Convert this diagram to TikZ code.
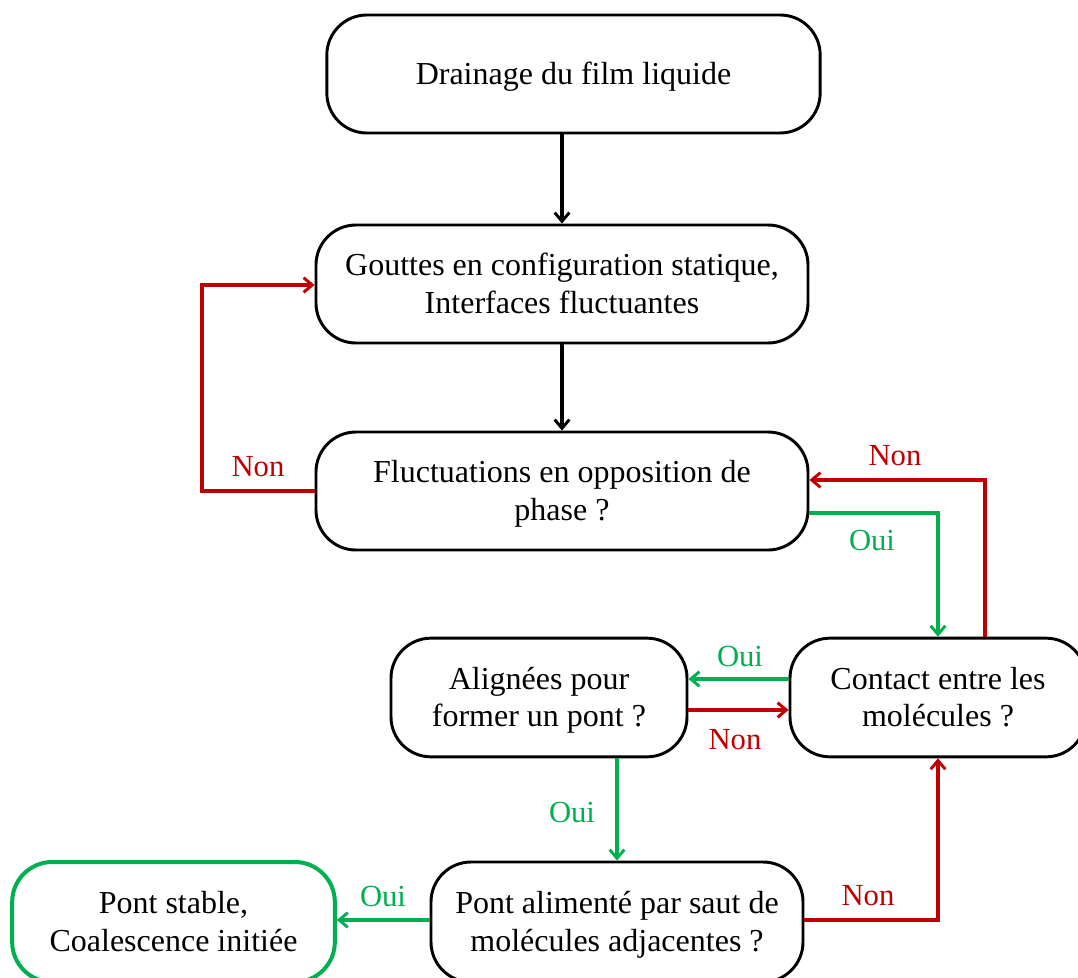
\documentclass[tikz,border=0pt]{standalone}
\usepackage{fontspec}
\setmainfont{Liberation Serif}
\usetikzlibrary{arrows.meta}
\definecolor{myred}{RGB}{192,0,0}
\definecolor{mygreen}{RGB}{0,176,80}
\newcommand{\btxt}[1]{\raisebox{-2.2pt}[\height][\depth]{\begin{tabular}{@{}c@{}}#1\end{tabular}}}
\begin{document}
\begin{tikzpicture}[x=0.75pt,y=-0.75pt,
  box/.style={draw=black,line width=2.2pt,rounded corners=30pt,align=center,
    font=\fontsize{24}{28}\selectfont,inner sep=0pt},
  lab/.style={font=\fontsize{23}{27}\selectfont,inner sep=0pt},
  conn/.style={line width=2.3pt,-{Straight Barb[length=6.5pt,width=11pt,line width=2.2pt]}},
  rd/.style={conn,draw=myred},
  gr/.style={conn,draw=mygreen},
  bk/.style={conn,draw=black}]
\useasboundingbox (0,0) rectangle (1078,978);
\node[box,minimum width=370pt,minimum height=88.5pt] (b1) at (573.5,74) {\btxt{Drainage du film liquide}};
\node[box,minimum width=369pt,minimum height=88.5pt] (b2) at (562,284) {\btxt{Gouttes en configuration statique,\\Interfaces fluctuantes}};
\node[box,minimum width=369pt,minimum height=88.5pt] (b3) at (562,491) {\btxt{Fluctuations en opposition de\\phase ?}};
\node[box,minimum width=222pt,minimum height=89pt] (b4) at (938,697.5) {\btxt{Contact entre les\\molécules ?}};
\node[box,minimum width=222pt,minimum height=89pt] (b5) at (539,697.5) {\btxt{Alignées pour\\former un pont ?}};
\node[box,minimum width=279pt,minimum height=90pt] (b6) at (617,922) {\btxt{Pont alimenté par saut de\\molécules adjacentes ?}};
\node[box,draw=mygreen,line width=3pt,minimum width=242pt,minimum height=90pt] (b7) at (173.5,922) {\btxt{Pont stable,\\Coalescence initiée}};

\coordinate (c1) at (202,491);
\coordinate (c2) at (202,285);
\coordinate (c3) at (938,513);
\coordinate (c4) at (985,480);
\coordinate (c5) at (938,920);

\draw[bk] (b2.north |- b1.south) -- (b2.north);
\draw[bk] (b2.south) -- (b3.north);
\draw[rd] (b3.west) -- (c1) -- (c2) -- (b2.west |- c2);
\draw[gr] (b3.east |- c3) -- (c3) -- (b4.north);
\draw[rd] (c4 |- b4.north) -- (c4) -- (b3.east |- c4);
\draw[gr] (b4.west |- 0,679) -- (b5.east |- 0,679);
\draw[rd] (b5.east |- 0,710) -- (b4.west |- 0,710);
\draw[gr] (b6.north |- b5.south) -- (b6.north);
\draw[gr] (b6.west |- 0,920) -- (b7.east |- 0,920);
\draw[rd] (b6.east |- c5) -- (c5) -- (b4.south);

\node[lab,text=myred] (n1) at (258,467) {Non};
\node[lab,text=mygreen] (o1) at (872,540) {Oui};
\node[lab,text=myred] (n2) at (895,456) {Non};
\node[lab,text=mygreen] (o2) at (740,656) {Oui};
\node[lab,text=myred] (n3) at (735,740) {Non};
\node[lab,text=mygreen] (o3) at (572,812) {Oui};
\node[lab,text=mygreen] (o4) at (383,896) {Oui};
\node[lab,text=myred] (n4) at (868,896) {Non};
\end{tikzpicture}
\end{document}
